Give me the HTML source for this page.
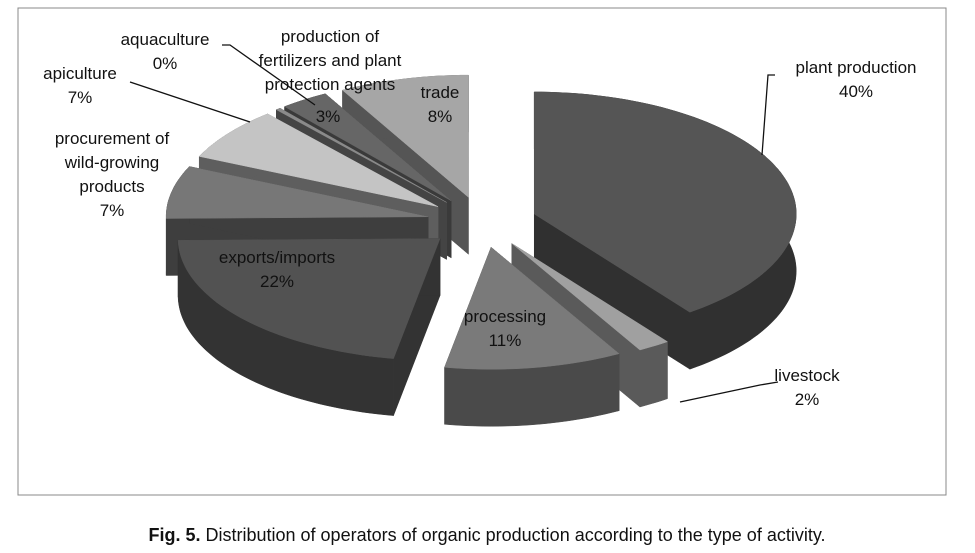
<!DOCTYPE html>
<html><head><meta charset="utf-8"><style>
body{margin:0;background:#fff;width:975px;height:553px;overflow:hidden;font-family:"Liberation Sans","DejaVu Sans",sans-serif;}
svg{position:absolute;left:0;top:0}
.lbl{font-size:17px;fill:#111;text-anchor:middle}
</style></head><body>
<svg width="975" height="553">
<rect x="18" y="8" width="928" height="487" fill="#fff" stroke="#888"/>
<g id="pie"></g>
<g id="labels"></g>
<text x="487" y="541" font-size="18" text-anchor="middle" fill="#111"><tspan font-weight="bold">Fig. 5.</tspan> Distribution of operators of organic production according to the type of activity.</text>
</svg>
<script>
const categories=["plant production","livestock","processing","exports/imports","procurement of wild-growing products","apiculture","aquaculture","production of fertilizers and plant protection agents","trade"];
const values=[40,2,11,22,7,7,0.3,3,8];
const percentLabels=["40%","2%","11%","22%","7%","7%","0%","3%","8%"];
const topColors=["#555555","#a0a0a0","#7a7a7a","#525252","#777777","#c4c4c4","#8a8a8a","#666666","#a6a6a6"];
const sideColors=["#303030","#5a5a5a","#4a4a4a","#333333","#3e3e3e","#5e5e5e","#444","#3a3a3a","#555555"];
const cx=482,cy=222,rx=262,ry=122,depth=57,explode=55;
const NS="http://www.w3.org/2000/svg";
const total=values.reduce((a,b)=>a+b,0);
function pt(c,a,r){return [c[0]+rx*r*Math.sin(a),c[1]-ry*r*Math.cos(a)];}
let acc=0;const slices=[];
values.forEach((v,i)=>{const a1=acc/total*2*Math.PI;acc+=v;const a2=acc/total*2*Math.PI;const m=(a1+a2)/2;
 const c=[cx+explode*Math.sin(m),cy-explode*ry/rx*Math.cos(m)];slices.push({i,a1,a2,m,c});});
function arcPath(c,a1,a2,dy){let s="";const n=Math.max(2,Math.ceil((a2-a1)/0.03));for(let k=0;k<=n;k++){const a=a1+(a2-a1)*k/n;const p=pt(c,a,1);s+=(k?"L":"")+p[0].toFixed(1)+","+(p[1]+dy).toFixed(1);}return s;}
const g=document.getElementById('pie');
function add(d,fill,name){const p=document.createElementNS(NS,'path');p.setAttribute('d',d);p.setAttribute('fill',fill);p.setAttribute('stroke',fill);p.setAttribute('stroke-width','0.5');


g.appendChild(p);}
slices.slice().sort((a,b)=>(-Math.cos(a.m))-(-Math.cos(b.m))).forEach(s=>{
 const c=s.c,col=sideColors[s.i],name='slice-'+s.i;
 [s.a1,s.a2].forEach(a=>{const p=pt(c,a,1);add(`M${c[0]},${c[1]}L${p[0]},${p[1]}L${p[0]},${p[1]+depth}L${c[0]},${c[1]+depth}Z`,col,name+'-side');});
 const seg=arcPath(c,s.a1,s.a2,0);
 let back="";const n=Math.max(2,Math.ceil((s.a2-s.a1)/0.03));for(let k=n;k>=0;k--){const a=s.a1+(s.a2-s.a1)*k/n;const p=pt(c,a,1);back+="L"+p[0].toFixed(1)+","+(p[1]+depth).toFixed(1);}
 add("M"+seg+back+"Z",col,name+'-wall');
 add(`M${c[0]},${c[1]}L`+arcPath(c,s.a1,s.a2,0)+"Z",topColors[s.i],name+'-top');
});
const L=document.getElementById('labels');
const labelPos=[[856,73,["plant production"]],[807,381,["livestock"]],[505,322,["processing"]],[277,263,["exports/imports"]],[112,144,["procurement of","wild-growing","products"]],[80,79,["apiculture"]],[165,45,["aquaculture"]],[330,42,["production of","fertilizers and plant","protection agents"]],[440,98,["trade"]]];
labelPos.forEach((lp,i)=>{const t=document.createElementNS(NS,'text');t.setAttribute('class','lbl');t.setAttribute('x',lp[0]);t.setAttribute('y',lp[1]);


const lines=lp[2].concat([percentLabels[i]]);
lines.forEach((ln,k)=>{const ts=document.createElementNS(NS,'tspan');ts.setAttribute('x',lp[0]);ts.setAttribute('dy',k?24:0);ts.textContent=ln;t.appendChild(ts);});
if(i==7){t.lastChild.setAttribute('x',328);t.lastChild.setAttribute('dy',0);t.lastChild.setAttribute('y',122);}
L.appendChild(t);});
const leaders=[[[775,75],[768,75],[762,155]],[[778,382],[760,385],[680,402]],[[130,82],[250,122]],[[222,45],[230,45],[315,105]]];
leaders.forEach((pts,i)=>{const pl=document.createElementNS(NS,'polyline');pl.setAttribute('points',pts.map(p=>p.join(',')).join(' '));pl.setAttribute('fill','none');pl.setAttribute('stroke','#111');pl.setAttribute('stroke-width','1.3');


L.appendChild(pl);});
</script>
</body></html>
